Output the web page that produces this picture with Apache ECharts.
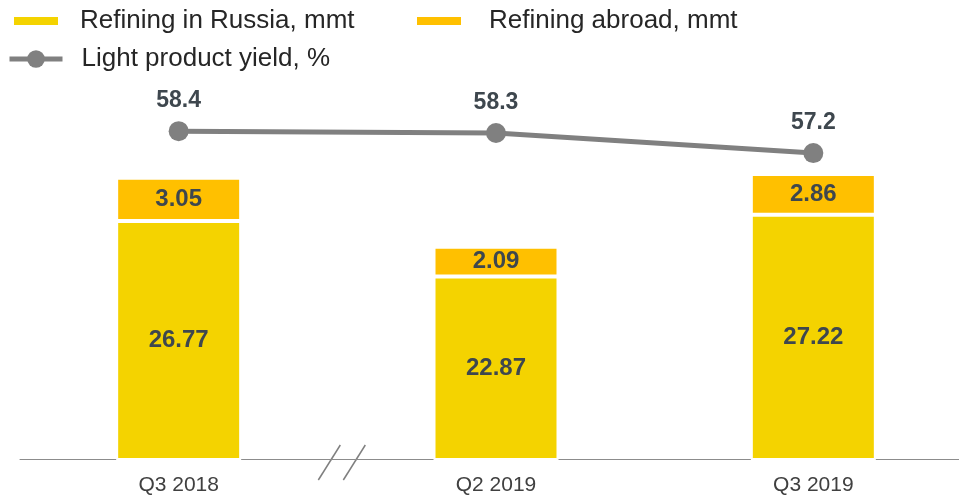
<!DOCTYPE html>
<html>
<head>
<meta charset="utf-8">
<script src="https://cdn.jsdelivr.net/npm/echarts@6/dist/echarts.min.js"></script>
<style>
  html, body { margin: 0; padding: 0; background: #fff; }
  #chart { width: 959px; height: 495px; }
</style>
</head>
<body>
<div id="chart"></div>
<script>
const categories = ['Q3 2018', 'Q2 2019', 'Q3 2019'];
const russia = [26.77, 22.87, 27.22];
const abroad = [3.05, 2.09, 2.86];
const yieldPct = [58.4, 58.3, 57.2];

const FONT = 'Liberation Sans, Arial, sans-serif';
const labelColor = '#3e474e';

const chart = echarts.init(document.getElementById('chart'));

const legendBase = {
  orient: 'horizontal',
  padding: 0,
  itemWidth: 46,
  itemHeight: 10,
  textStyle: { fontFamily: FONT, fontSize: 26, color: '#262626' }
};

chart.setOption({
  animation: false,
  legend: [
    Object.assign({}, legendBase, {
      left: 12, top: 8, icon: 'rect',
      data: ['Refining in Russia, mmt'],
      textStyle: Object.assign({}, legendBase.textStyle, { padding: [0, 0, 0, 16] })
    }),
    Object.assign({}, legendBase, {
      left: 415, top: 8, icon: 'rect',
      data: ['Refining abroad, mmt'],
      textStyle: Object.assign({}, legendBase.textStyle, { padding: [0, 0, 0, 22] })
    }),
    Object.assign({}, legendBase, {
      left: 7, top: 46, itemWidth: 53, itemHeight: 22,
      data: ['Light product yield, %'],
      lineStyle: { width: 5, color: '#808080' },
      textStyle: Object.assign({}, legendBase.textStyle, { padding: [0, 0, 0, 14] })
    })
  ],
  grid: {
    left: 20, width: 952, top: 100, bottom: 36,
    containLabel: false, outerBoundsMode: 'none'
  },
  xAxis: {
    type: 'category',
    data: categories,
    axisTick: { show: false },
    axisLine: { lineStyle: { color: '#8c8c8c', width: 1 } },
    axisLabel: { fontFamily: FONT, fontSize: 21, color: '#404040', margin: 16 }
  },
  yAxis: [
    { type: 'value', min: 10, max: 35.3, show: false, splitLine: { show: false } },
    { type: 'value', min: 40.5, max: 60.1, show: false, splitLine: { show: false } }
  ],
  series: [
    {
      name: 'Refining in Russia, mmt',
      type: 'bar',
      stack: 'total',
      barWidth: 125,
      data: russia,
      itemStyle: { color: '#f4d300', borderColor: '#fff', borderWidth: 2 },
      label: {
        show: true, position: 'inside',
        fontFamily: FONT, fontSize: 24, fontWeight: 'bold', color: labelColor,
        formatter: p => p.value.toFixed(2)
      }
    },
    {
      name: 'Refining abroad, mmt',
      type: 'bar',
      stack: 'total',
      barWidth: 125,
      data: abroad,
      itemStyle: { color: '#ffc000', borderColor: '#fff', borderWidth: 2 },
      label: {
        show: true, position: 'inside',
        fontFamily: FONT, fontSize: 24, fontWeight: 'bold', color: labelColor,
        formatter: p => p.value.toFixed(2)
      }
    },
    {
      name: 'Light product yield, %',
      type: 'line',
      yAxisIndex: 1,
      data: yieldPct,
      symbol: 'circle',
      symbolSize: 20,
      lineStyle: { color: '#808080', width: 5 },
      itemStyle: { color: '#808080' },
      z: 5,
      label: {
        show: true, position: 'top', distance: 9,
        fontFamily: FONT, fontSize: 23, fontWeight: 'bold', color: labelColor,
        formatter: p => p.value.toFixed(1)
      }
    }
  ]
});

// axis break marks between the first two quarters
const x0 = chart.convertToPixel({ xAxisIndex: 0 }, categories[0]);
const x1 = chart.convertToPixel({ xAxisIndex: 0 }, categories[1]);
const yBase = chart.convertToPixel({ yAxisIndex: 0 }, 10);
const mid = (x0 + x1) / 2;
const slash = cx => ({
  type: 'line',
  shape: { x1: cx - 11, y1: yBase + 21, x2: cx + 11, y2: yBase - 14 },
  style: { stroke: '#7f7f7f', lineWidth: 1.5 }
});
chart.setOption({
  graphic: [slash(mid - 8), slash(mid + 17)]
});
</script>
</body>
</html>
